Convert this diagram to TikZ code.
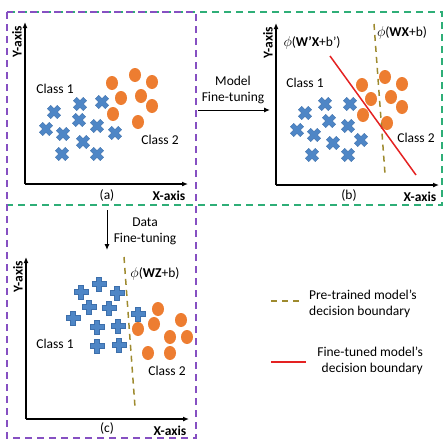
\documentclass[tikz,border=0pt]{standalone}
\usepackage{fontspec}
\setmainfont{Carlito}
\usetikzlibrary{arrows.meta,positioning}
\definecolor{xblue}{HTML}{4E86C6}
\definecolor{xedge}{HTML}{3D6FAB}
\definecolor{dorange}{HTML}{ED7D31}
\definecolor{boxgreen}{HTML}{2EAE77}
\definecolor{boxpurple}{HTML}{8650C2}
\definecolor{olive}{HTML}{9E8A2E}
\definecolor{tunedred}{HTML}{E42222}
\tikzset{
    txt/.style={font=\fontsize{13.5}{16}\selectfont, inner sep=0pt},
    axlabel/.style={txt, font=\fontsize{13.5}{16}\selectfont\bfseries},
    axis/.style={line width=1.2pt, -{Latex[length=6pt,width=5pt]}},
    flow/.style={line width=1pt, -{Latex[length=6pt,width=5pt]}},
    pretrained/.style={olive, line width=1.5pt, dash pattern=on 6pt off 5pt},
    tuned/.style={tunedred, line width=1.5pt},
}
% blue cross (rotated plus) and plus marks
\newcommand{\plusmark}[3]{
    \filldraw[fill=xblue, draw=xedge, line width=0.4pt, shift={(#1,#2)}, rotate=#3]
        (-2.4,-7) -- (2.4,-7) -- (2.4,-2.4) -- (7,-2.4) -- (7,2.4) -- (2.4,2.4)
        -- (2.4,7) -- (-2.4,7) -- (-2.4,2.4) -- (-7,2.4) -- (-7,-2.4)
        -- (-2.4,-2.4) -- cycle;
}
\newcommand{\orangedot}[2]{
    \fill[dorange] (#1,#2) ellipse [x radius=6, y radius=7];
}
\newcommand{\plotaxes}[3]{
    \coordinate (#1o) at (#2,#3);
    \coordinate (#1x) at (#2+163,#3);
    \coordinate (#1y) at (#2,#3-162);
    \draw[axis] (#1o) -- (#1x);
    \draw[axis] (#1o) -- (#1y);
    \node[axlabel, rotate=90] (#1ylab) at (#2-8,#3-142) {Y-axis};
    \node[axlabel] (#1xlab) at (#2+144,#3+12) {X-axis};
}

\begin{document}
\begin{tikzpicture}[x=1pt, y=-1pt]
    \useasboundingbox (0,0) rectangle (446,442);

    % panel frames
    \draw[boxgreen, line width=1.5pt, dash pattern=on 7pt off 5pt] (7,12) rectangle (442,205);
    \draw[boxpurple, line width=1.5pt, dash pattern=on 7pt off 5pt] (7,12) rectangle (196,438);

    % (a) pre-trained model
    \plotaxes{a}{25}{184}
    \node[txt] (tagA) at (107,195) {(a)};
    \node[txt] (classAa) at (55,89) {Class 1};
    \node[txt] (classAb) at (160,140) {Class 2};
    \foreach \px/\py in {54/112, 80/104, 102/102, 46/129, 63/134, 79/120,
        97/126, 115/133, 83/142, 62/154, 97/154}
        {\plusmark{\px}{\py}{45}}
    \foreach \px/\py in {112/83, 135/75, 152/82, 121/98, 141/96, 152/106,
        113/114, 138/122}
        {\orangedot{\px}{\py}}

    % model fine-tuning
    \coordinate (mstart) at (198,110);
    \coordinate (mend) at (270,110);
    \draw[flow] (mstart) -- (mend);
    \node[txt, align=center] (modelft) at (233,90) {Model\\Fine-tuning};

    % (b) fine-tuned model
    \plotaxes{b}{276}{185}
    \node[txt] (tagB) at (349,195) {(b)};
    \node[txt] (classBa) at (305,83) {Class 1};
    \node[txt] (classBb) at (416,138) {Class 2};
    \foreach \px/\py in {305/113, 325/104, 350/104, 329/121, 297/130, 314/135,
        348/126, 333/143, 361/140, 312/155, 348/155}
        {\plusmark{\px}{\py}{45}}
    \foreach \px/\py in {362/85, 385/77, 402/84, 371/99, 391/97, 402/107,
        363/115, 387/123}
        {\orangedot{\px}{\py}}
    \coordinate (oldBtop) at (374,24);
    \coordinate (oldBbot) at (385,174);
    \draw[pretrained] (oldBtop) -- (oldBbot);
    \coordinate (newBtop) at (330,56);
    \coordinate (newBbot) at (416,175);
    \draw[tuned] (newBtop) -- (newBbot);
    \node[txt] (phiNew) at (312,43) {$\phi$(\textbf{W’X}+b’)};
    \node[txt] (phiOldB) at (402,33) {$\phi$(\textbf{WX}+b)};

    % data fine-tuning
    \coordinate (dstart) at (107,210);
    \coordinate (dend) at (107,250);
    \draw[flow] (dstart) -- (dend);
    \node[txt, align=center] (dataft) at (145,231) {Data\\Fine-tuning};

    % (c) fine-tuned data
    \plotaxes{c}{26}{419}
    \node[txt] (tagC) at (107,428) {(c)};
    \node[txt] (classCa) at (55,344) {Class 1};
    \node[txt] (classCb) at (167,371) {Class 2};
    \foreach \px/\py in {81/292, 99/284, 117/293, 89/307, 109/308, 73/318,
        97/327, 118/326, 138/314, 97/346, 119/345}
        {\plusmark{\px}{\py}{0}}
    \foreach \px/\py in {158/309, 181/320, 138/329, 154/324, 170/337, 187/337,
        148/353, 170/353}
        {\orangedot{\px}{\py}}
    \coordinate (oldCtop) at (124,257);
    \coordinate (oldCbot) at (135,407);
    \draw[pretrained] (oldCtop) -- (oldCbot);
    \node[txt] (phiOldC) at (155,274) {$\phi$(\textbf{WZ}+b)};

    % legend
    \coordinate (legPa) at (271,301);
    \coordinate (legPb) at (302,301);
    \draw[pretrained] (legPa) -- (legPb);
    \node[txt, align=left, anchor=west] (legP) at (309,304) {Pre-trained model’s\\decision boundary};
    \coordinate (legFa) at (271,362);
    \coordinate (legFb) at (306,362);
    \draw[tuned] (legFa) -- (legFb);
    \node[txt, align=right, anchor=east] (legF) at (423,361) {Fine-tuned model’s\\decision boundary};
\end{tikzpicture}
\end{document}
